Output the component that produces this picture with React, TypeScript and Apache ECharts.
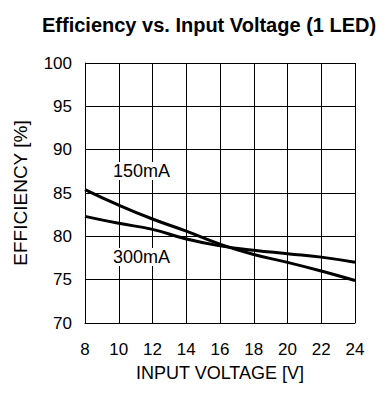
import React, { useEffect, useRef } from "react";
import * as echarts from "echarts";

const voltages = [8, 10, 12, 14, 16, 18, 20, 22, 24];
const eff150 = [85.4, 83.6, 82.0, 80.6, 79.1, 77.9, 77.0, 76.0, 74.9];
const eff300 = [82.3, 81.5, 80.8, 79.7, 78.9, 78.4, 78.0, 77.6, 77.0];
const seriesNames = ["150mA", "300mA"];
const titleText = "Efficiency vs. Input Voltage (1 LED)";

const FONT = "'Liberation Sans', Arial, sans-serif";

export default function App() {
  const ref = useRef<HTMLDivElement>(null);
  useEffect(() => {
    if (!ref.current) return;
    const chart = echarts.init(ref.current, null, { renderer: "svg" });
    const mk = (vals: number[]) => voltages.map((v, i) => [v, vals[i]]);
    chart.setOption({
      animation: false,
      backgroundColor: "#fff",
      grid: { left: 85, right: 35, top: 63, bottom: 71, containLabel: false },
      xAxis: {
        type: "value",
        min: 8,
        max: 24,
        interval: 2,
        name: "INPUT VOLTAGE [V]",
        nameLocation: "middle",
        nameGap: 41,
        nameTextStyle: { fontFamily: FONT, fontSize: 18, color: "#000" },
        axisLine: { show: true, lineStyle: { color: "#000", width: 1 } },
        axisTick: { show: false },
        axisLabel: { fontFamily: FONT, fontSize: 17, color: "#000", margin: 18 },
        splitLine: { show: true, lineStyle: { color: "#000", width: 1 } },
      },
      yAxis: {
        type: "value",
        min: 70,
        max: 100,
        interval: 5,
        name: "EFFICIENCY [%]",
        nameLocation: "middle",
        nameGap: 55,
        nameTextStyle: { fontFamily: FONT, fontSize: 19, color: "#000" },
        axisLine: { show: true, lineStyle: { color: "#000", width: 1 } },
        axisTick: { show: false },
        axisLabel: { fontFamily: FONT, fontSize: 17, color: "#000", margin: 13 },
        splitLine: { show: true, lineStyle: { color: "#000", width: 1 } },
      },
      series: [
        {
          name: seriesNames[0],
          type: "line",
          data: mk(eff150),
          smooth: true,
          showSymbol: false,
          lineStyle: { color: "#000", width: 3 },
          z: 5,
        },
        {
          name: seriesNames[1],
          type: "line",
          data: mk(eff300),
          smooth: true,
          showSymbol: false,
          lineStyle: { color: "#000", width: 3 },
          z: 5,
        },
      ],
      graphic: [
        {
          type: "text",
          left: 42,
          top: 15,
          style: {
            text: titleText,
            fontFamily: FONT,
            fontSize: 20,
            fontWeight: "bold",
            fill: "#000",
          },
        },
        {
          type: "text",
          left: 113,
          top: 162,
          style: { text: seriesNames[0], fontFamily: FONT, fontSize: 18, fill: "#000", backgroundColor: "#fff" },
          z: 10,
        },
        {
          type: "text",
          left: 113,
          top: 248,
          style: { text: seriesNames[1], fontFamily: FONT, fontSize: 18, fill: "#000", backgroundColor: "#fff" },
          z: 10,
        },
      ],
    });
    return () => chart.dispose();
  }, []);
  return <div ref={ref} style={{ width: 390, height: 394, position: "absolute", left: 0, top: 0 }} />;
}
